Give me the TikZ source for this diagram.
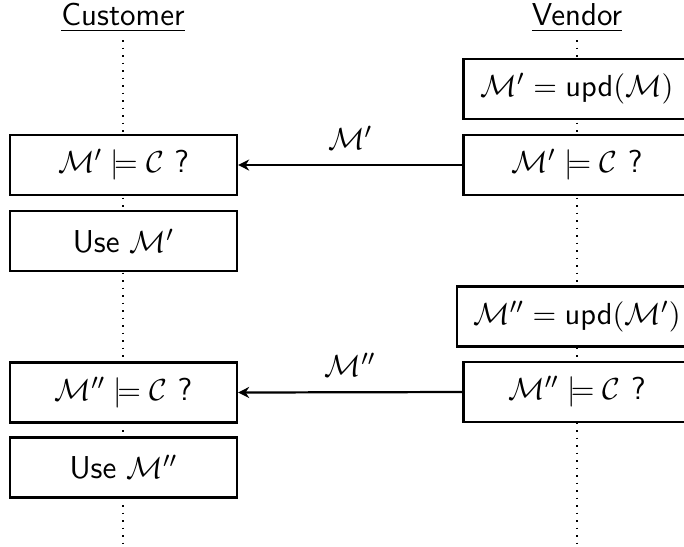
\documentclass[tikz,border=0pt]{standalone}
\usepackage{amssymb}
\usetikzlibrary{arrows.meta}
\begin{document}
\begin{tikzpicture}[x=0.36pt,y=-0.36pt,
  every node/.style={font=\fontsize{11.4}{13}\selectfont\sffamily},
  lifeline/.style={dotted,line width=0.7pt},
  msgbox/.style={draw,line width=0.8pt,fill=white,minimum width=81.7pt,minimum height=21.6pt,inner xsep=5.8pt,inner ysep=3pt},
  msg/.style={line width=0.8pt,-{Stealth[length=4pt,width=4pt]}}]
\useasboundingbox (0,0) rectangle (684,546);
% headings
\node (hc) at (123,18) {\underline{Customer}};
\node (hv) at (577,18) {\underline{Vendor}};
% lifelines
\coordinate (ct) at (123,40);
\coordinate (cb) at (123,546);
\coordinate (vt) at (577,40);
\coordinate (vb) at (577,546);
\draw[lifeline] (ct) -- (cb);
\draw[lifeline] (vt) -- (vb);
% vendor boxes
\node[msgbox] (v1) at (577,89) {$\mathcal{M}' = \mathsf{upd}(\mathcal{M})$};
\node[msgbox] (v2) at (577,165) {$\mathcal{M}' \models \mathcal{C}$ ?};
\node[msgbox] (v3) at (577,316.5) {$\mathcal{M}'' = \mathsf{upd}(\mathcal{M}')$};
\node[msgbox] (v4) at (577,392) {$\mathcal{M}'' \models \mathcal{C}$ ?};
% customer boxes
\node[msgbox] (c1) at (123.5,165) {$\mathcal{M}' \models \mathcal{C}$ ?};
\node[msgbox] (c2) at (123.5,241) {Use $\mathcal{M}'$};
\node[msgbox] (c3) at (123.5,392.5) {$\mathcal{M}'' \models \mathcal{C}$ ?};
\node[msgbox] (c4) at (123.5,467.5) {Use $\mathcal{M}''$};
% messages
\draw[msg] (v2.west) -- node[above=2pt] {$\mathcal{M}'$} (c1.east);
\draw[msg] (v4.west) -- node[above=2pt] {$\mathcal{M}''$} (c3.east);
\end{tikzpicture}
\end{document}
